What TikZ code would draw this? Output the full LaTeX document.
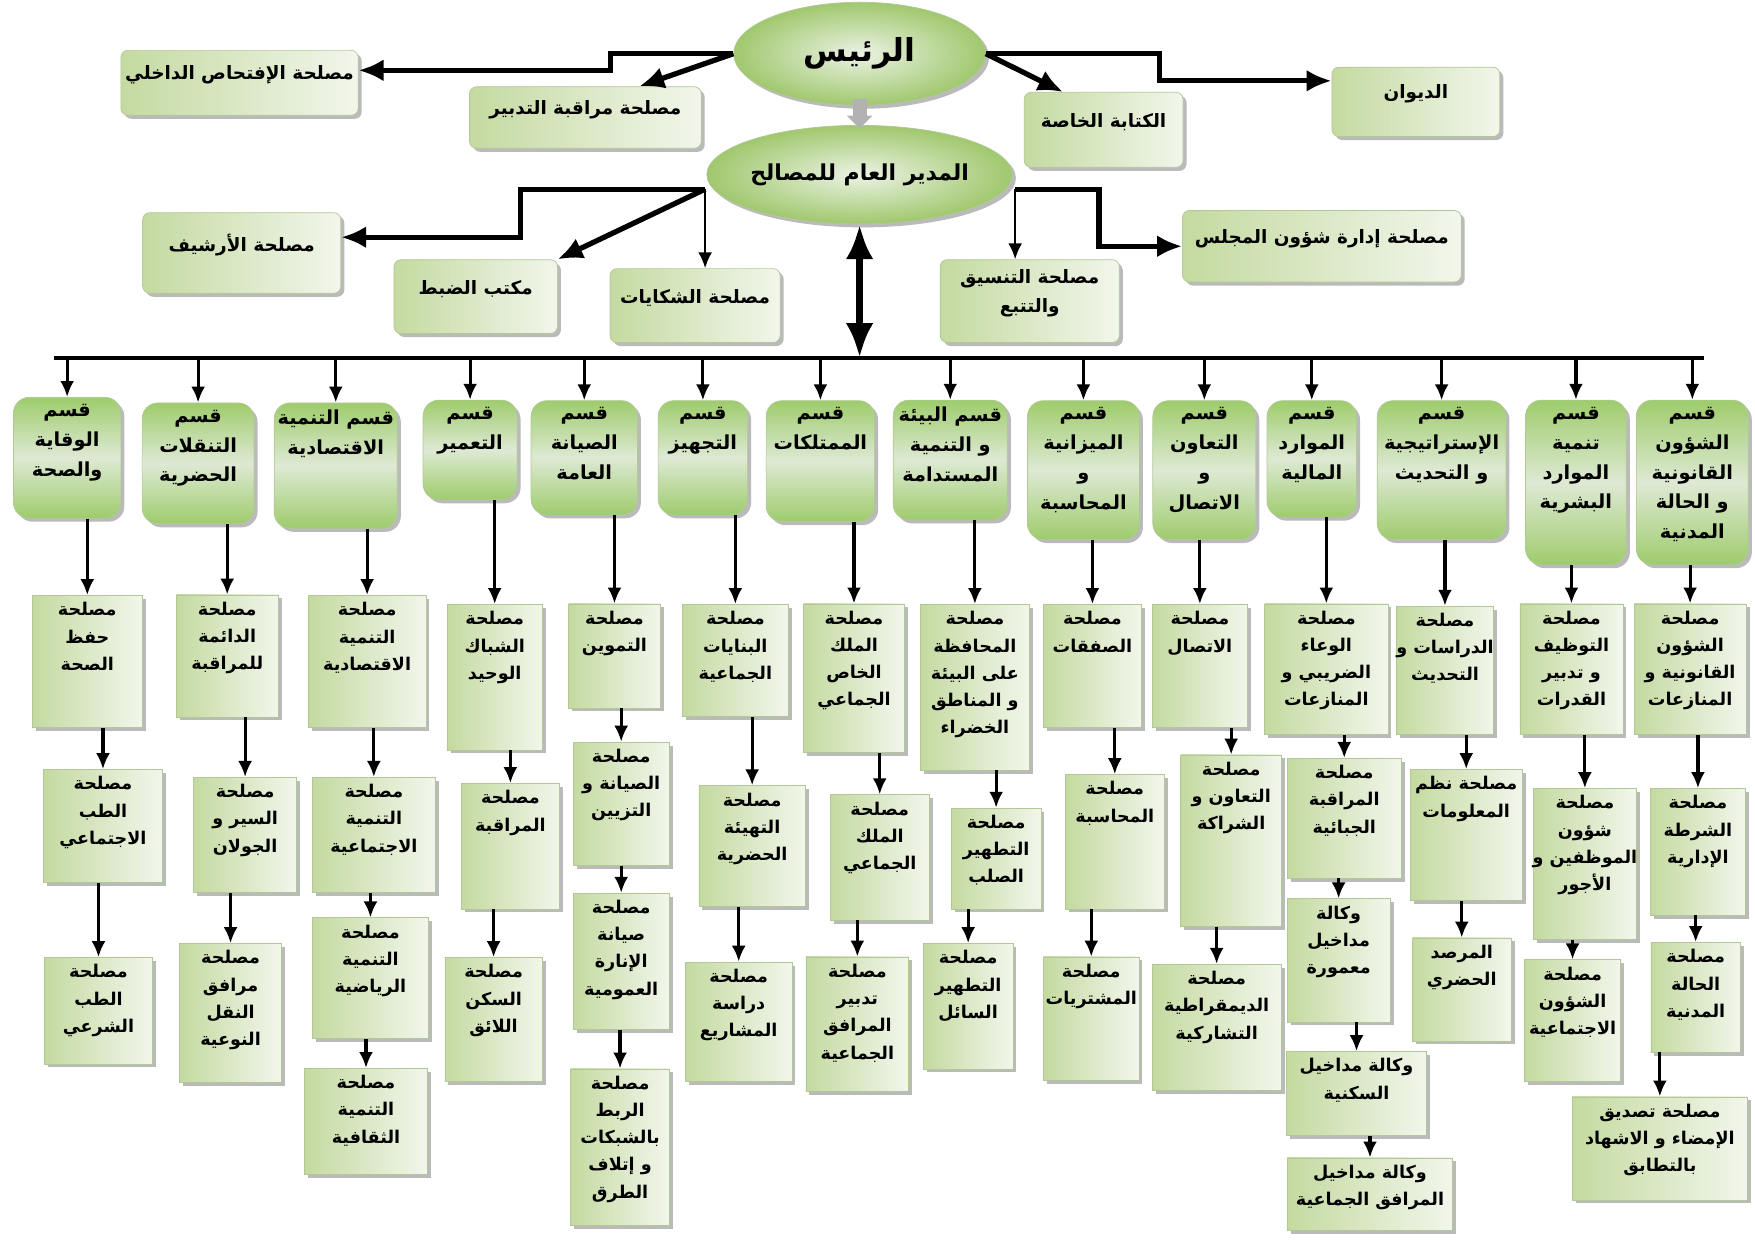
\documentclass[tikz,border=0pt]{standalone}
\usepackage{fontspec}
\newfontfamily\arabicfont[Script=Arabic]{DejaVu Sans}
\TeXXeTstate=1
\usetikzlibrary{arrows.meta,shapes.geometric,shadows}

\newlength{\pxu}
\setlength{\pxu}{0.0224cm}
\newcommand{\ar}[1]{\makebox[0pt]{\beginR#1\endR}}
% text at the top of a box / a bit above the middle of a box
\newcommand{\toptxt}[3]{\parbox[c][#2\pxu][t]{#1\pxu}{\centering\vspace*{4pt}#3}}
\newcommand{\midtxt}[3]{\parbox[c][#2\pxu][c]{#1\pxu}{\centering#3\par\vspace{9pt}}}

\definecolor{edgegreen}{RGB}{178,200,150}
\definecolor{subgreen}{RGB}{196,218,160}
\definecolor{sublight}{RGB}{242,246,236}
\definecolor{deptgreen}{RGB}{158,204,108}
\definecolor{deptlight}{RGB}{222,233,212}
\definecolor{ovalgreen}{RGB}{160,200,110}
\definecolor{ovallight}{RGB}{236,242,228}

\tikzset{%
  >={Latex[width=2.8mm,length=3.2mm]},
  % Specifications for style of nodes:
            base/.style = {rectangle, draw=edgegreen, line width=.4pt, inner sep=0pt,
                           font=\arabicfont\bfseries,
                           drop shadow={shadow xshift=2pt, shadow yshift=-2pt,
                                        fill=black!45, opacity=.6}},
         headbox/.style = {base, rounded corners=4pt, left color=subgreen, right color=sublight,
                           font=\arabicfont\bfseries\fontsize{10.5}{17}\selectfont},
         deptbox/.style = {base, rounded corners=9pt, top color=deptgreen, bottom color=deptgreen,
                           middle color=deptlight,
                           font=\arabicfont\bfseries\fontsize{11}{17}\selectfont},
          subbox/.style = {base, left color=subgreen, right color=sublight,
                           font=\arabicfont\bfseries\fontsize{10}{15.5}\selectfont},
  chiefoval/.style 2 args = {base, ellipse, minimum width=#1*\pxu, minimum height=#2*\pxu,
                           inner color=ovallight, outer color=ovalgreen},
  % Specifications for style of connectors:
            main/.style = {->, >={Latex[width=4.4mm,length=5mm]}, line width=3pt},
           minor/.style = {->, line width=1.3pt},
            feed/.style = {->, line width=1.8pt},
         busline/.style = {line width=2.6pt},
           trunk/.style = {<->, >={Latex[width=5.5mm,length=7mm]}, line width=4.4pt},
           relay/.style = {-{Triangle[width=5mm,length=2.6mm]}, line width=8pt, gray!60},
}

\begin{document}
\begin{tikzpicture}[x=0.0224cm, y=-0.0224cm]
  \path[use as bounding box, fill=white] (0,0) rectangle (1568,1109);

  % Specification of nodes (position, size, text)
  \node (rais)      [chiefoval={225}{92}, font=\arabicfont\bfseries\fontsize{18}{22}\selectfont] at (768,48) {\ar{الرئيس}};
  \node (mudir)     [chiefoval={273}{88}, font=\arabicfont\bfseries\fontsize{12.5}{16}\selectfont] at (768,156) {\ar{المدير العام للمصالح}};

  \node (iftihas)   [headbox] at (214,74)   {\midtxt{212}{58}{\ar{مصلحة الإفتحاص الداخلي}}};
  \node (muraqaba)  [headbox] at (523,105)  {\midtxt{207}{55}{\ar{مصلحة مراقبة التدبير}}};
  \node (kitaba)    [headbox] at (986,116)  {\midtxt{142}{67}{\ar{الكتابة الخاصة}}};
  \node (diwan)     [headbox] at (1265,91)  {\midtxt{150}{62}{\ar{الديوان}}};
  \node (arshif)    [headbox] at (216,226)  {\midtxt{177}{72}{\ar{مصلحة الأرشيف}}};
  \node (dabt)      [headbox] at (425,265)  {\midtxt{146}{66}{\ar{مكتب الضبط}}};
  \node (shikayat)  [headbox] at (621,273)  {\midtxt{152}{66}{\ar{مصلحة الشكايات}}};
  \node (tansiq)    [headbox] at (920,269)  {\midtxt{160}{74}{\ar{مصلحة التنسيق}\\\ar{والتتبع}}};
  \node (majlis)    [headbox] at (1181,220) {\midtxt{249}{64}{\ar{مصلحة إدارة شؤون المجلس}}};

  \coordinate (splitL) at (630,169);
  \coordinate (splitR) at (907,169);
  \coordinate (busL) at (48,320);
  \coordinate (busR) at (1522,320);

  % departments
  \node (d1)  [deptbox] at (60,409)   {\toptxt{96}{108}{\ar{قسم}\\\ar{الوقاية}\\\ar{والصحة}}};
  \node (d2)  [deptbox] at (177,414)  {\toptxt{100}{108}{\ar{قسم}\\\ar{التنقلات}\\\ar{الحضرية}}};
  \node (d3)  [deptbox] at (300,416)  {\toptxt{110}{112}{\ar{قسم التنمية}\\\ar{الاقتصادية}}};
  \node (d4)  [deptbox] at (420,402)  {\toptxt{84}{89}{\ar{قسم}\\\ar{التعمير}}};
  \node (d5)  [deptbox] at (522,409)  {\toptxt{95}{102}{\ar{قسم}\\\ar{الصيانة}\\\ar{العامة}}};
  \node (d6)  [deptbox] at (628,409)  {\toptxt{80}{102}{\ar{قسم}\\\ar{التجهيز}}};
  \node (d7)  [deptbox] at (733,412)  {\toptxt{97}{108}{\ar{قسم}\\\ar{الممتلكات}}};
  \node (d8)  [deptbox] at (849,411)  {\toptxt{102}{107}{\ar{قسم البيئة}\\\ar{و التنمية}\\\ar{المستدامة}}};
  \node (d9)  [deptbox] at (968,420)  {\toptxt{100}{124}{\ar{قسم}\\\ar{الميزانية}\\\ar{و}\\\ar{المحاسبة}}};
  \node (d10) [deptbox] at (1076,420) {\toptxt{92}{124}{\ar{قسم}\\\ar{التعاون}\\\ar{و}\\\ar{الاتصال}}};
  \node (d11) [deptbox] at (1172,410) {\toptxt{80}{104}{\ar{قسم}\\\ar{الموارد}\\\ar{المالية}}};
  \node (d12) [deptbox] at (1288,420) {\toptxt{115}{124}{\ar{قسم}\\\ar{الإستراتيجية}\\\ar{و التحديث}}};
  \node (d13) [deptbox] at (1408,431) {\toptxt{90}{147}{\ar{قسم}\\\ar{تنمية}\\\ar{الموارد}\\\ar{البشرية}}};
  \node (d14) [deptbox] at (1512,431) {\toptxt{100}{147}{\ar{قسم}\\\ar{الشؤون}\\\ar{القانونية}\\\ar{و الحالة}\\\ar{المدنية}}};

  % services
  \node (c1a)  [subbox] at (78,591)    {\toptxt{98}{118}{\ar{مصلحة}\\\ar{حفظ}\\\ar{الصحة}}};
  \node (c1b)  [subbox] at (92,738)    {\toptxt{106}{101}{\ar{مصلحة}\\\ar{الطب}\\\ar{الاجتماعي}}};
  \node (c1c)  [subbox] at (88,903)    {\toptxt{97}{95}{\ar{مصلحة}\\\ar{الطب}\\\ar{الشرعي}}};
  \node (c2a)  [subbox] at (203,586)   {\toptxt{91}{109}{\ar{مصلحة}\\\ar{الدائمة}\\\ar{للمراقبة}}};
  \node (c2b)  [subbox] at (219,746)   {\toptxt{92}{103}{\ar{مصلحة}\\\ar{السير و}\\\ar{الجولان}}};
  \node (c2c)  [subbox] at (206,905)   {\toptxt{91}{124}{\ar{مصلحة}\\\ar{مرافق}\\\ar{النقل}\\\ar{النوعية}}};
  \node (c3a)  [subbox] at (328,591)   {\toptxt{105}{118}{\ar{مصلحة}\\\ar{التنمية}\\\ar{الاقتصادية}}};
  \node (c3b)  [subbox] at (334,746)   {\toptxt{110}{103}{\ar{مصلحة}\\\ar{التنمية}\\\ar{الاجتماعية}}};
  \node (c3c)  [subbox] at (331,874)   {\toptxt{104}{108}{\ar{مصلحة}\\\ar{التنمية}\\\ar{الرياضية}}};
  \node (c3d)  [subbox] at (327,1002)  {\toptxt{110}{95}{\ar{مصلحة}\\\ar{التنمية}\\\ar{الثقافية}}};
  \node (c4a)  [subbox] at (442,605)   {\toptxt{85}{130}{\ar{مصلحة}\\\ar{الشباك}\\\ar{الوحيد}}};
  \node (c4b)  [subbox] at (456,756)   {\toptxt{88}{112}{\ar{مصلحة}\\\ar{المراقبة}}};
  \node (c4c)  [subbox] at (441,911)   {\toptxt{87}{111}{\ar{مصلحة}\\\ar{السكن}\\\ar{اللائق}}};
  \node (c5a)  [subbox] at (549,586)   {\toptxt{82}{93}{\ar{مصلحة}\\\ar{التموين}}};
  \node (c5b)  [subbox] at (555,718)   {\toptxt{86}{110}{\ar{مصلحة}\\\ar{الصيانة و}\\\ar{التزيين}}};
  \node (c5c)  [subbox] at (555,859)   {\toptxt{86}{122}{\ar{مصلحة}\\\ar{صيانة}\\\ar{الإنارة}\\\ar{العمومية}}};
  \node (c5d)  [subbox] at (554,1025)  {\toptxt{88}{140}{\ar{مصلحة}\\\ar{الربط}\\\ar{بالشبكات}\\\ar{و إتلاف}\\\ar{الطرق}}};
  \node (c6a)  [subbox] at (657,590)   {\toptxt{95}{100}{\ar{مصلحة}\\\ar{البنايات}\\\ar{الجماعية}}};
  \node (c6b)  [subbox] at (672,756)   {\toptxt{95}{108}{\ar{مصلحة}\\\ar{التهيئة}\\\ar{الحضرية}}};
  \node (c6c)  [subbox] at (660,913)   {\toptxt{95}{107}{\ar{مصلحة}\\\ar{دراسة}\\\ar{المشاريع}}};
  \node (c7a)  [subbox] at (763,606)   {\toptxt{90}{133}{\ar{مصلحة}\\\ar{الملك}\\\ar{الخاص}\\\ar{الجماعي}}};
  \node (c7b)  [subbox] at (786,766)   {\toptxt{88}{112}{\ar{مصلحة}\\\ar{الملك}\\\ar{الجماعي}}};
  \node (c7c)  [subbox] at (766,915)   {\toptxt{92}{120}{\ar{مصلحة}\\\ar{تدبير}\\\ar{المرافق}\\\ar{الجماعية}}};
  \node (c8a)  [subbox] at (871,614)   {\toptxt{98}{148}{\ar{مصلحة}\\\ar{المحافظة}\\\ar{على البيئة}\\\ar{و المناطق}\\\ar{الخضراء}}};
  \node (c8b)  [subbox] at (890,767)   {\toptxt{80}{90}{\ar{مصلحة}\\\ar{التطهير}\\\ar{الصلب}}};
  \node (c8c)  [subbox] at (865,899)   {\toptxt{80}{112}{\ar{مصلحة}\\\ar{التطهير}\\\ar{السائل}}};
  \node (c9a)  [subbox] at (976,595)   {\toptxt{87}{110}{\ar{مصلحة}\\\ar{الصفقات}}};
  \node (c9b)  [subbox] at (996,752)   {\toptxt{88}{120}{\ar{مصلحة}\\\ar{المحاسبة}}};
  \node (c9c)  [subbox] at (975,910)   {\toptxt{85}{110}{\ar{مصلحة}\\\ar{المشتريات}}};
  \node (c10a) [subbox] at (1072,595)  {\toptxt{85}{110}{\ar{مصلحة}\\\ar{الاتصال}}};
  \node (c10b) [subbox] at (1100,751)  {\toptxt{90}{153}{\ar{مصلحة}\\\ar{التعاون و}\\\ar{الشراكة}}};
  \node (c10c) [subbox] at (1087,918)  {\toptxt{115}{113}{\ar{مصلحة}\\\ar{الديمقراطية}\\\ar{التشاركية}}};
  \node (c11a) [subbox] at (1185,598)  {\toptxt{110}{117}{\ar{مصلحة}\\\ar{الوعاء}\\\ar{الضريبي و}\\\ar{المنازعات}}};
  \node (c11b) [subbox] at (1201,731)  {\toptxt{102}{107}{\ar{مصلحة}\\\ar{المراقبة}\\\ar{الجبائية}}};
  \node (c11c) [subbox] at (1196,858)  {\toptxt{92}{110}{\ar{وكالة}\\\ar{مداخيل}\\\ar{معمورة}}};
  \node (c11d) [subbox] at (1212,977)  {\toptxt{125}{75}{\ar{وكالة مداخيل}\\\ar{السكنية}}};
  \node (c11e) [subbox] at (1224,1067) {\toptxt{148}{65}{\ar{وكالة مداخيل}\\\ar{المرافق الجماعية}}};
  \node (c12a) [subbox] at (1291,599)  {\toptxt{87}{115}{\ar{مصلحة}\\\ar{الدراسات و}\\\ar{التحديث}}};
  \node (c12b) [subbox] at (1310,746)  {\toptxt{100}{117}{\ar{مصلحة نظم}\\\ar{المعلومات}}};
  \node (c12c) [subbox] at (1306,884)  {\toptxt{88}{92}{\ar{المرصد}\\\ar{الحضري}}};
  \node (c13a) [subbox] at (1404,598)  {\toptxt{92}{117}{\ar{مصلحة}\\\ar{التوظيف}\\\ar{و تدبير}\\\ar{القدرات}}};
  \node (c13b) [subbox] at (1416,772)  {\toptxt{92}{135}{\ar{مصلحة}\\\ar{شؤون}\\\ar{الموظفين و}\\\ar{الأجور}}};
  \node (c13c) [subbox] at (1405,912)  {\toptxt{86}{109}{\ar{مصلحة}\\\ar{الشؤون}\\\ar{الاجتماعية}}};
  \node (c14a) [subbox] at (1510,598)  {\toptxt{100}{117}{\ar{مصلحة}\\\ar{الشؤون}\\\ar{القانونية و}\\\ar{المنازعات}}};
  \node (c14b) [subbox] at (1517,761)  {\toptxt{85}{113}{\ar{مصلحة}\\\ar{الشرطة}\\\ar{الإدارية}}};
  \node (c14c) [subbox] at (1515,891)  {\toptxt{80}{98}{\ar{مصلحة}\\\ar{الحالة}\\\ar{المدنية}}};
  \node (c14d) [subbox] at (1483,1026) {\toptxt{157}{92}{\ar{مصلحة تصديق}\\\ar{الإمضاء و الاشهاد}\\\ar{بالتطابق}}};

  % top connectors
  \draw[main]   (rais.west) -- ++(-110,0) |- (iftihas.6);
  \draw[main]   (rais.west) -- (muraqaba.30);
  \draw[main]   (rais.east) -- ++(155,0) |- (diwan.166);
  \draw[main]   (rais.east) -- (kitaba.137);
  \draw[relay]  ([yshift=4pt]rais.south) -- ([yshift=-2pt]mudir.north);
  \draw[main]   (splitL) -- ++(-165,0) |- (arshif.9);
  \draw[main]   (splitL) -- (dabt.north east);
  \draw[minor]  (splitL) -- (splitL |- shikayat.north);
  \draw[main]   (splitR) -- ++(75,0) |- (majlis.west);
  \draw[minor]  (splitR) -- (splitR |- tansiq.north);
  \draw[trunk]  (mudir.south) -- (mudir.south |- busL);
  \draw[busline] (busL) -- (busR);

  % bus to departments
  \draw[feed] (d1.north |- busL) -- (d1.north);
  \draw[feed] (d2.north |- busL) -- (d2.north);
  \draw[feed] (d3.north |- busL) -- (d3.north);
  \draw[feed] (d4.north |- busL) -- (d4.north);
  \draw[feed] (d5.north |- busL) -- (d5.north);
  \draw[feed] (d6.north |- busL) -- (d6.north);
  \draw[feed] (d7.north |- busL) -- (d7.north);
  \draw[feed] (d8.north |- busL) -- (d8.north);
  \draw[feed] (d9.north |- busL) -- (d9.north);
  \draw[feed] (d10.north |- busL) -- (d10.north);
  \draw[feed] (d11.north |- busL) -- (d11.north);
  \draw[feed] (d12.north |- busL) -- (d12.north);
  \draw[feed] (d13.north |- busL) -- (d13.north);
  \draw[feed] (d14.north |- busL) -- (d14.north);

  % departments to services
  \draw[feed] (c1a.north |- d1.south) -- (c1a.north);
  \draw[feed] (c1b.north |- c1a.south) -- (c1b.north);
  \draw[feed] (c1c.north |- c1b.south) -- (c1c.north);
  \draw[feed] (c2a.north |- d2.south) -- (c2a.north);
  \draw[feed] (c2b.north |- c2a.south) -- (c2b.north);
  \draw[feed] (c2c.north |- c2b.south) -- (c2c.north);
  \draw[feed] (c3a.north |- d3.south) -- (c3a.north);
  \draw[feed] (c3b.north |- c3a.south) -- (c3b.north);
  \draw[feed] (c3c.north |- c3b.south) -- (c3c.north);
  \draw[feed] (c3d.north |- c3c.south) -- (c3d.north);
  \draw[feed] (c4a.north |- d4.south) -- (c4a.north);
  \draw[feed] (c4b.north |- c4a.south) -- (c4b.north);
  \draw[feed] (c4c.north |- c4b.south) -- (c4c.north);
  \draw[feed] (c5a.north |- d5.south) -- (c5a.north);
  \draw[feed] (c5b.north |- c5a.south) -- (c5b.north);
  \draw[feed] (c5c.north |- c5b.south) -- (c5c.north);
  \draw[feed] (c5d.north |- c5c.south) -- (c5d.north);
  \draw[feed] (c6a.north |- d6.south) -- (c6a.north);
  \draw[feed] (c6b.north |- c6a.south) -- (c6b.north);
  \draw[feed] (c6c.north |- c6b.south) -- (c6c.north);
  \draw[feed] (c7a.north |- d7.south) -- (c7a.north);
  \draw[feed] (c7b.north |- c7a.south) -- (c7b.north);
  \draw[feed] (c7c.north |- c7b.south) -- (c7c.north);
  \draw[feed] (c8a.north |- d8.south) -- (c8a.north);
  \draw[feed] (c8b.north |- c8a.south) -- (c8b.north);
  \draw[feed] (c8c.north |- c8b.south) -- (c8c.north);
  \draw[feed] (c9a.north |- d9.south) -- (c9a.north);
  \draw[feed] (c9b.north |- c9a.south) -- (c9b.north);
  \draw[feed] (c9c.north |- c9b.south) -- (c9c.north);
  \draw[feed] (c10a.north |- d10.south) -- (c10a.north);
  \draw[feed] (c10b.north |- c10a.south) -- (c10b.north);
  \draw[feed] (c10c.north |- c10b.south) -- (c10c.north);
  \draw[feed] (c11a.north |- d11.south) -- (c11a.north);
  \draw[feed] (c11b.north |- c11a.south) -- (c11b.north);
  \draw[feed] (c11c.north |- c11b.south) -- (c11c.north);
  \draw[feed] (c11d.north |- c11c.south) -- (c11d.north);
  \draw[feed] (c11e.north |- c11d.south) -- (c11e.north);
  \draw[feed] (c12a.north |- d12.south) -- (c12a.north);
  \draw[feed] (c12b.north |- c12a.south) -- (c12b.north);
  \draw[feed] (c12c.north |- c12b.south) -- (c12c.north);
  \draw[feed] (c13a.north |- d13.south) -- (c13a.north);
  \draw[feed] (c13b.north |- c13a.south) -- (c13b.north);
  \draw[feed] (c13c.north |- c13b.south) -- (c13c.north);
  \draw[feed] (c14a.north |- d14.south) -- (c14a.north);
  \draw[feed] (c14b.north |- c14a.south) -- (c14b.north);
  \draw[feed] (c14c.north |- c14b.south) -- (c14c.north);
  \draw[feed] (c14d.north |- c14c.south) -- (c14d.north);
\end{tikzpicture}
\end{document}
